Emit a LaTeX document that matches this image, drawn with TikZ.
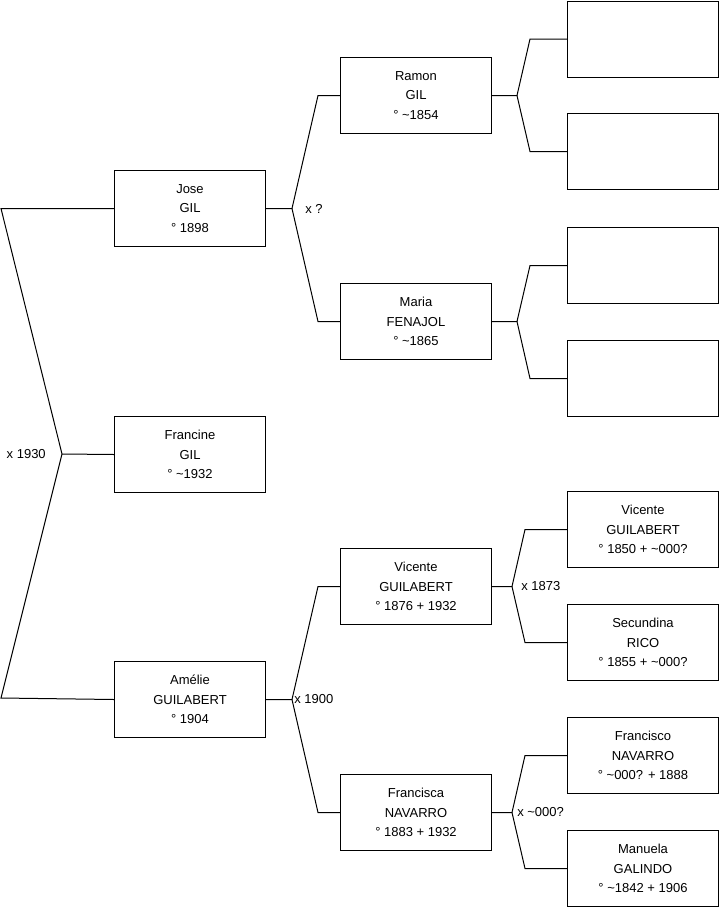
\documentclass[tikz,border=0pt]{standalone}
\usepackage{fontspec}
\setmainfont{Liberation Sans}
\usetikzlibrary{positioning}

\newcommand{\apx}{\textasciitilde}

\tikzset{
  person/.style={draw, line width=0.75pt, minimum width=113.25pt, minimum height=57pt,
    inner sep=0pt, align=center, anchor=north west, font=\fontsize{9.75}{14.6}\selectfont},
  union/.style={inner sep=0pt, font=\fontsize{9.75}{11}\selectfont},
  link/.style={line width=0.75pt},
}

\begin{document}
\begin{tikzpicture}[x=0.75pt, y=-0.75pt]
\useasboundingbox (0,0) rectangle (719,908);

% generation 1
\node[person] (jose)     at (114,170) {Jose\\GIL\\° 1898};
\node[person] (francine) at (114,416) {Francine\\GIL\\° \apx1932};
\node[person] (amelie)   at (114,661) {Amélie\\GUILABERT\\° 1904};

% generation 2
\node[person] (ramon)     at (340,57)  {Ramon\\GIL\\° \apx1854};
\node[person] (maria)     at (340,283) {Maria\\FENAJOL\\° \apx1865};
\node[person] (vicente)   at (340,548) {Vicente\\GUILABERT\\° 1876 + 1932};
\node[person] (francisca) at (340,774) {Francisca\\NAVARRO\\° 1883 + 1932};

% generation 3
\node[person] (ramonf)  at (567,0.5) {};
\node[person] (ramonm)  at (567,113) {};
\node[person] (mariaf)  at (567,227) {};
\node[person] (mariam)  at (567,340) {};
\node[person] (vicentef) at (567,491) {Vicente\\GUILABERT\\° 1850 + \apx000?};
\node[person] (secundina) at (567,604) {Secundina\\RICO\\° 1855 + \apx000?};
\node[person] (francisco) at (567,717) {Francisco\\NAVARRO\\° \apx000? + 1888};
\node[person] (manuela)   at (567,830) {Manuela\\GALINDO\\° \apx1842 + 1906};

% root fork
\coordinate (m0) at (62,454);
\draw[link] (jose.west) -- ++(-113,0) -- (m0) -- ++(-61,244) -- (amelie.west);
\draw[link] (m0) -- (francine.west);
\node[union, left=12pt of m0] (u0) {x 1930};

% jose
\draw[link] (jose.east) -- ++(26,0) coordinate (m1) -- ([xshift=-16.5pt]ramon.west) -- (ramon.west);
\draw[link] (m1) -- ([xshift=-16.5pt]maria.west) -- (maria.west);
\node[union, right=9.75pt of m1] (u1) {x ?};

% ramon
\draw[link] (ramon.east) -- ++(25,0) coordinate (m2) -- ([xshift=-27.75pt]ramonf.west) -- (ramonf.west);
\draw[link] (m2) -- ([xshift=-27.75pt]ramonm.west) -- (ramonm.west);

% maria
\draw[link] (maria.east) -- ++(25,0) coordinate (m3) -- ([xshift=-27.75pt]mariaf.west) -- (mariaf.west);
\draw[link] (m3) -- ([xshift=-27.75pt]mariam.west) -- (mariam.west);

% amelie
\draw[link] (amelie.east) -- ++(26,0) coordinate (m4) -- ([xshift=-16.5pt]vicente.west) -- (vicente.west);
\draw[link] (m4) -- ([xshift=-16.5pt]francisca.west) -- (francisca.west);
\node[union, right=1.5pt of m4] (u4) {x 1900};

% vicente
\draw[link] (vicente.east) -- ++(20,0) coordinate (m5) -- ([xshift=-31.5pt]vicentef.west) -- (vicentef.west);
\draw[link] (m5) -- ([xshift=-31.5pt]secundina.west) -- (secundina.west);
\node[union, right=6.75pt of m5] (u5) {x 1873};

% francisca
\draw[link] (francisca.east) -- ++(20,0) coordinate (m6) -- ([xshift=-31.5pt]francisco.west) -- (francisco.west);
\draw[link] (m6) -- ([xshift=-31.5pt]manuela.west) -- (manuela.west);
\node[union, right=3.75pt of m6] (u6) {x \apx000?};

\end{tikzpicture}
\end{document}
